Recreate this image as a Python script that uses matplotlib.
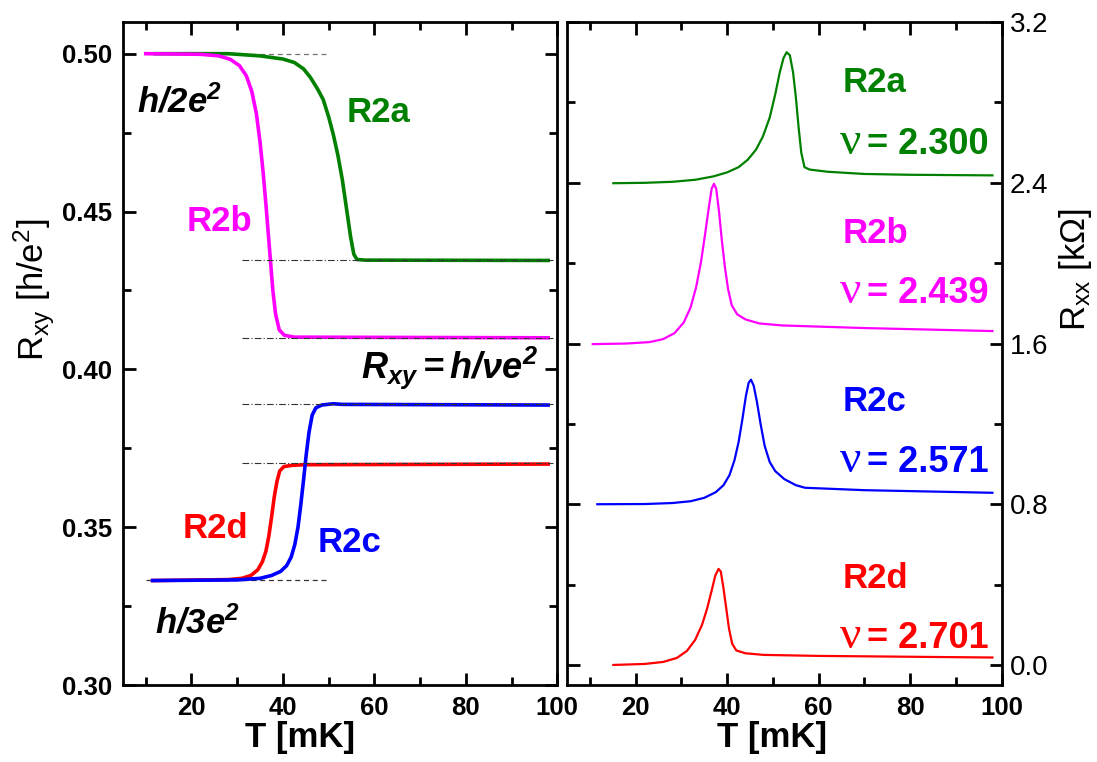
import numpy as np
import matplotlib
matplotlib.use('Agg')
import matplotlib.pyplot as plt
from matplotlib.ticker import MultipleLocator

plt.rcParams['font.family'] = ['Liberation Sans', 'DejaVu Sans']
plt.rcParams['mathtext.fontset'] = 'custom'
plt.rcParams['mathtext.rm'] = 'Liberation Sans'
plt.rcParams['mathtext.it'] = 'Liberation Sans:italic'
plt.rcParams['mathtext.bf'] = 'Liberation Sans:bold'
plt.rcParams['mathtext.sf'] = 'Liberation Sans:italic:bold'

GREEN, MAGENTA, BLUE, RED = '#008000', '#ff00ff', '#0000ff', '#ff0000'

# ---- left panel: Rxy [h/e^2] vs T [mK] ----
r2a_T = [12, 28, 35, 40, 42.5, 44.5, 46, 47.5, 48.8, 50, 51, 52, 53, 54, 54.8, 55.5, 56.2, 58, 98]
r2a_xy = [0.500, 0.500, 0.4993, 0.4983, 0.4972, 0.4952, 0.4925, 0.489, 0.4855, 0.480, 0.4745,
          0.468, 0.460, 0.450, 0.442, 0.4365, 0.4348, 0.4346, 0.4345]

r2b_T = [10, 22, 26, 28.5, 30.5, 32, 33.2, 34.2, 35, 35.7, 36.3, 36.8, 37.3, 37.8, 38.4, 39.2, 40.3, 42.5, 98]
r2b_xy = [0.500, 0.4998, 0.4993, 0.4982, 0.4962, 0.4930, 0.488, 0.481, 0.472, 0.462, 0.452,
          0.443, 0.434, 0.425, 0.4175, 0.4125, 0.4108, 0.4102, 0.4100]

r2c_T = [11.5, 30, 35, 37.5, 39.5, 40.8, 41.8, 42.6, 43.3, 43.9, 44.5, 45.1, 45.7, 46.4, 47.2, 48.5, 51, 53, 98]
r2c_xy = [0.3331, 0.3333, 0.3338, 0.3347, 0.3360, 0.3378, 0.3405, 0.3445, 0.350, 0.357, 0.3648,
          0.373, 0.380, 0.3855, 0.3878, 0.3887, 0.3891, 0.3889, 0.3887]

r2d_T = [11.5, 28, 31, 33, 34.5, 35.5, 36.3, 36.9, 37.5, 38.1, 38.7, 39.3, 40.2, 42, 45, 98]
r2d_xy = [0.3331, 0.3334, 0.3338, 0.3347, 0.3365, 0.339, 0.3425, 0.347, 0.353, 0.3595, 0.3645,
          0.3678, 0.3692, 0.3696, 0.3698, 0.3700]

# fractional fillings (plateaus at 1/nu)
nu_vals = [2.300, 2.439, 2.571, 2.701]
nu_labels = ['2.300', '2.439', '2.571', '2.701']

# ---- right panel: Rxx [kOhm] (offset traces) ----
r2a_Tx = [15.1, 22, 28, 33, 37, 40, 42.5, 44.5, 46.3, 47.8, 49.3, 50.5, 51.5, 52.3, 53, 53.7, 54.4,
          55, 55.6, 56.2, 56.9, 58, 62, 70, 80, 98]
r2a_xx = [2.398, 2.400, 2.405, 2.415, 2.432, 2.452, 2.478, 2.515, 2.565, 2.63, 2.725, 2.84, 2.95,
          3.02, 3.05, 3.035, 2.95, 2.83, 2.68, 2.55, 2.478, 2.466, 2.455, 2.444, 2.440, 2.437]

r2b_Tx = [10.6, 18, 23, 26, 28.5, 30.5, 32, 33.2, 34.3, 35.2, 36, 36.6, 37.1, 37.6, 38.2, 38.8,
          39.5, 40.2, 41, 42.2, 44, 47, 52, 70, 98]
r2b_xx = [1.597, 1.600, 1.607, 1.622, 1.652, 1.705, 1.78, 1.88, 2.01, 2.15, 2.28, 2.37, 2.395,
          2.37, 2.26, 2.12, 1.98, 1.87, 1.79, 1.745, 1.72, 1.70, 1.690, 1.677, 1.662]

r2c_Tx = [11.6, 22, 28, 32, 35, 37.5, 39.2, 40.5, 41.6, 42.5, 43.3, 44.1, 44.7, 45.2, 45.8, 46.5,
          47.3, 48.2, 49.3, 50.5, 52.5, 55, 57, 70, 98]
r2c_xx = [0.800, 0.801, 0.806, 0.815, 0.832, 0.860, 0.895, 0.945, 1.02, 1.11, 1.22, 1.34, 1.405,
          1.42, 1.39, 1.31, 1.20, 1.09, 1.01, 0.965, 0.925, 0.895, 0.882, 0.870, 0.857]

r2d_Tx = [15.1, 22, 26, 29, 31.2, 33, 34.5, 35.6, 36.6, 37.4, 38.1, 38.6, 39.2, 39.8, 40.4, 41.1,
          42, 44, 48, 60, 98]
r2d_xx = [0.000, 0.005, 0.015, 0.035, 0.07, 0.125, 0.20, 0.28, 0.37, 0.445, 0.478, 0.465, 0.38,
          0.28, 0.18, 0.105, 0.072, 0.058, 0.050, 0.045, 0.037]

fig = plt.figure(figsize=(10.97, 7.62), dpi=100)
ax1 = fig.add_axes([0.112, 0.101, 0.396, 0.870])
ax2 = fig.add_axes([0.517, 0.101, 0.396, 0.870])

# reference lines
ax1.plot([10, 50], [0.5, 0.5], color='0.45', lw=0.9, ls=(0, (4, 3)))
ax1.plot([10, 50], [1 / 3, 1 / 3], color='0.2', lw=0.9, ls=(0, (4, 3)))
for nu in nu_vals:
    ax1.plot([31, 99], [1 / nu, 1 / nu], color='0.2', lw=0.8, ls=(0, (6, 2, 1, 2)), zorder=3)

ax1.plot(r2a_T, r2a_xy, color=GREEN, lw=2.6, zorder=2)
ax1.plot(r2b_T, r2b_xy, color=MAGENTA, lw=2.6, zorder=2)
ax1.plot(r2d_T, r2d_xy, color=RED, lw=2.6, zorder=2)
ax1.plot(r2c_T, r2c_xy, color=BLUE, lw=2.6, zorder=2)

ax1.set_xlim(5, 100)
ax1.set_ylim(0.30, 0.51)
ax1.xaxis.set_major_locator(MultipleLocator(20))
ax1.xaxis.set_minor_locator(MultipleLocator(10))
ax1.yaxis.set_major_locator(MultipleLocator(0.05))
ax1.yaxis.set_minor_locator(MultipleLocator(0.025))
ax1.set_xticks([20, 40, 60, 80, 100])
ax1.yaxis.set_major_formatter(plt.FormatStrFormatter('%.2f'))

ax1.text(8, 0.4847, r'$\mathsf{h/2e^2}$', fontsize=25, va='center', ha='left')
ax1.text(54, 0.4815, 'R2a', color=GREEN, fontsize=25, fontweight='bold', va='center')
ax1.text(19, 0.4467, 'R2b', color=MAGENTA, fontsize=25, fontweight='bold', va='center')
ax1.text(57, 0.4005, '$\\mathsf{R_{xy}}$$\\mathsf{= h/\u03bde^2}$',
         fontsize=26, va='center', ha='left')
ax1.text(18, 0.3497, 'R2d', color=RED, fontsize=25, fontweight='bold', va='center')
ax1.text(47.6, 0.345, 'R2c', color=BLUE, fontsize=25, fontweight='bold', va='center')
ax1.text(12, 0.3195, r'$\mathsf{h/3e^2}$', fontsize=25, va='center', ha='left')

# right panel
ax2.plot(r2a_Tx, r2a_xx, color=GREEN, lw=1.6)
ax2.plot(r2b_Tx, r2b_xx, color=MAGENTA, lw=1.6)
ax2.plot(r2c_Tx, r2c_xx, color=BLUE, lw=1.6)
ax2.plot(r2d_Tx, r2d_xx, color=RED, lw=1.6)

ax2.set_xlim(5, 100)
ax2.set_ylim(-0.1, 3.2)
ax2.xaxis.set_major_locator(MultipleLocator(20))
ax2.xaxis.set_minor_locator(MultipleLocator(10))
ax2.yaxis.set_major_locator(MultipleLocator(0.8))
ax2.yaxis.set_minor_locator(MultipleLocator(0.4))
ax2.set_xticks([20, 40, 60, 80, 100])
ax2.yaxis.set_major_formatter(plt.FormatStrFormatter('%.1f'))

names = ['R2a', 'R2b', 'R2c', 'R2d']
cols = [GREEN, MAGENTA, BLUE, RED]
name_y = [2.90, 2.15, 1.31, 0.432]
nu_y = [2.61, 1.866, 1.025, 0.149]
for nm, c, yn, yv, lab in zip(names, cols, name_y, nu_y, nu_labels):
    ax2.text(65.3, yn, nm, color=c, fontsize=25, fontweight='bold', va='center')
    # big serif nu, then "= value"
    ax2.text(64.6, yv - 0.066, '\u03bd', color=c, fontsize=34, family='Liberation Serif',
             va='baseline', ha='left')
    ax2.text(70.6, yv - 0.066, '= ' + lab, color=c, fontsize=26, fontweight='bold',
             va='baseline', ha='left')

for ax in (ax1, ax2):
    for s in ax.spines.values():
        s.set_linewidth(2.0)
    ax.tick_params(which='both', direction='in', top=True, bottom=True, left=True, right=True,
                   width=2.0)
    ax.tick_params(which='major', length=9)
    ax.tick_params(which='minor', length=6)

ax1.tick_params(axis='both', labelsize=18.5, pad=8)
for lb in ax1.get_xticklabels() + ax1.get_yticklabels():
    lb.set_fontweight('bold')
ax2.tick_params(axis='x', labelsize=18.5, pad=8)
for lb in ax2.get_xticklabels():
    lb.set_fontweight('bold')
ax2.tick_params(axis='y', labelleft=False, labelright=True, labelsize=20, pad=6)

fig.text(300 / 1097, 1 - 737 / 762, 'T [mK]', fontsize=25, fontweight='bold', ha='center', va='center')
fig.text(772 / 1097, 1 - 737 / 762, 'T [mK]', fontsize=25, fontweight='bold', ha='center', va='center')
fig.text(34 / 1097, 1 - 290 / 762, r'R$_{\mathrm{xy}}$ [h/e$^{\mathrm{2}}$]', fontsize=25,
         rotation=90, ha='center', va='center')
fig.text(1076 / 1097, 1 - 270 / 762, 'R$_{\\mathrm{xx}}$ [k\u03a9]',
         fontsize=25, rotation=90, ha='center', va='center')

plt.savefig('out.png', dpi=100)
